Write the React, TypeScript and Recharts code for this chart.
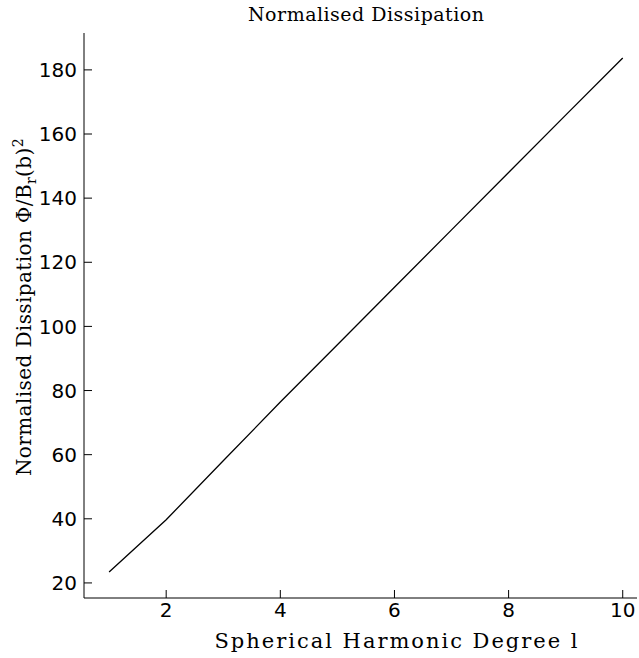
import { LineChart, Line, XAxis, YAxis, Label } from 'recharts';

const degrees = [1, 2, 3, 4, 5, 6, 7, 8, 9, 10];
const dissipation = [23.4, 39.7, 58.1, 76.4, 94.3, 112.2, 130.1, 148.0, 165.9, 183.7];
const xTicks = [2, 4, 6, 8, 10];
const yTicks = [20, 40, 60, 80, 100, 120, 140, 160, 180];

const data = degrees.map((l, i) => ({ l, value: dissipation[i] }));

const serif = '"DejaVu Serif", serif';
const sans = '"DejaVu Sans", sans-serif';

export default function App() {
  return (
    <div style={{ position: 'absolute', left: 0, top: 0, background: '#fff' }}>
      <LineChart
        width={639}
        height={658}
        data={data}
        margin={{ top: 33, right: 2, bottom: 0, left: 0 }}
      >
        <XAxis
          dataKey="l"
          type="number"
          domain={[0.56, 10.25]}
          ticks={xTicks}
          height={60}
          tickSize={-8}
          tickMargin={13}
          stroke="#000"
          tick={{ fill: '#000', fontSize: 20, fontFamily: sans }}
          tickLine={{ stroke: '#000' }}
          axisLine={{ stroke: '#000' }}
        >
          <Label
            content={() => (
              <g>
                <text x={366} y={21} textAnchor="middle" fontFamily={serif} fontSize={19} textLength={236} lengthAdjust="spacing" fill="#000">
                  Normalised Dissipation
                </text>
                <text x={396} y={648} textAnchor="middle" fontFamily={serif} fontSize={21} textLength={363} lengthAdjust="spacing" fill="#000">
                  Spherical Harmonic Degree l
                </text>
              </g>
            )}
          />
        </XAxis>
        <YAxis
          type="number"
          domain={[15.3, 191.5]}
          ticks={yTicks}
          width={84}
          tickSize={-8}
          tickMargin={15}
          stroke="#000"
          tick={{ fill: '#000', fontSize: 20, fontFamily: sans }}
          tickLine={{ stroke: '#000' }}
          axisLine={{ stroke: '#000' }}
        >
          <Label
            content={() => (
              <text
                x={0}
                y={0}
                transform="translate(31 307) rotate(-90)"
                textAnchor="middle"
                fontFamily={serif}
                fontSize={20}
                letterSpacing={0.4}
                fill="#000"
              >
                Normalised Dissipation  Φ/B
                <tspan fontSize={14} dy={5}>r</tspan>
                <tspan dy={-5}>(b)</tspan>
                <tspan fontSize={14} dy={-8}>2</tspan>
              </text>
            )}
          />
        </YAxis>
        <Line
          dataKey="value"
          stroke="#000"
          strokeWidth={1.3}
          dot={false}
          isAnimationActive={false}
        />
      </LineChart>
    </div>
  );
}
